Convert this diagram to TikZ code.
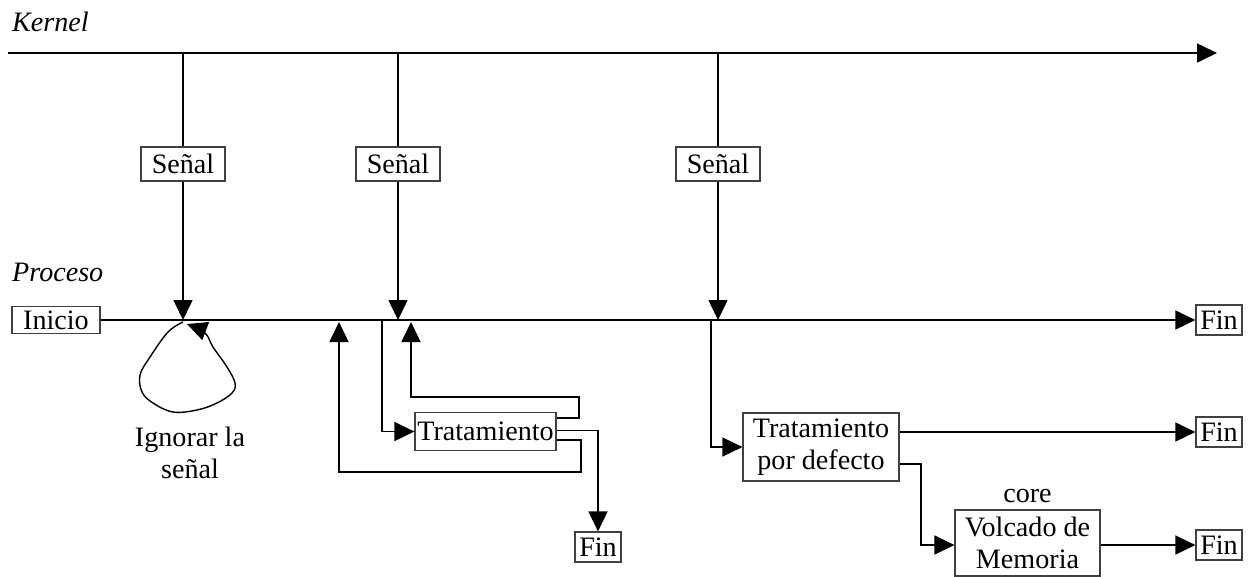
\documentclass[tikz,border=0pt]{standalone}
\usepackage{fontspec}
\setmainfont{Liberation Serif}
\usetikzlibrary{arrows.meta,calc,positioning}

\begin{document}
\begin{tikzpicture}[
      x={(0.02cm,0)}, y={(0,-0.02cm)},
      font=\fontsize{16}{18}\selectfont,
      box/.style={draw=black!75,line width=0.7pt,inner sep=1pt,align=center},
      line/.style={line width=0.9pt},
      arrow/.style={line width=0.9pt,-{Triangle[length=0.4cm,width=0.38cm]}},
      tag/.style={font=\fontsize{16}{18}\selectfont\itshape,anchor=west}
    ]
      \useasboundingbox (0,0) rectangle (1256,576);
      % labels of the two time lines
      \node[tag] (kernel) at (6,22) {Kernel};
      \node[tag] (proceso) at (6,272) {Proceso};
      \coordinate (k0) at (8,53);
      \coordinate (k1) at (1217,53);
      \draw[arrow] (k0) -- (k1);
      % signals sent by the kernel
      \node[box,minimum width=1.68cm,minimum height=0.68cm] (sig1) at (183,164) {Señal};
      \node[box,minimum width=1.68cm,minimum height=0.68cm] (sig2) at (398,164) {Señal};
      \node[box,minimum width=1.68cm,minimum height=0.68cm] (sig3) at (718,164) {Señal};
      \foreach \s/\x in {sig1/183,sig2/398,sig3/718} {
        \draw[line] (\x,53) -- (\s.north);
        \draw[arrow] (\s.south) -- (\x,320);
      }
      % process line
      \node[box,minimum width=1.76cm,minimum height=0.54cm] (inicio) at (56,320) {Inicio};
      \node[box,minimum width=0.92cm,minimum height=0.6cm] (fin1) at (1219,320) {Fin};
      \draw[arrow] (inicio.east) -- (fin1.west);
      % first signal: ignored
      \draw[arrow,line width=0.8pt] plot[smooth,tension=0.6] coordinates {(183,322) (168,332) (150,357) (140,375)
        (142,392) (153,403) (173,412) (197,410) (217,403) (232,393) (235,383) (227,367) (213,347) (205,333) (187,324)};
      \node[align=center] (ignorar) at (190,453) {Ignorar la\\señal};
      % second signal: handler
      \node[box,minimum width=2.82cm,minimum height=0.76cm] (trat) at (485.5,431.5) {Tratamiento};
      \node[box,minimum width=0.92cm,minimum height=0.6cm] (fin4) at (598,547) {Fin};
      \coordinate (p2) at (382,320);
      \coordinate (p2in) at (411,322);
      \coordinate (p2back) at (339,322);
      \draw[arrow] (p2) |- (trat.west);
      \draw[arrow] ([yshift=0.27cm]trat.east) -| (579,397) -| (p2in);
      \draw[arrow] ([yshift=0.02cm]trat.east) -| (fin4.north);
      \draw[arrow] ([yshift=-0.17cm]trat.east) -| (581,472) -| (p2back);
      % third signal: default action
      \node[box,minimum width=3.12cm,minimum height=1.36cm] (def) at (821,447) {Tratamiento\\por defecto};
      \node[box,minimum width=0.92cm,minimum height=0.6cm] (fin2) at (1219,432) {Fin};
      \node[box,minimum width=2.9cm,minimum height=1.32cm] (volc) at (1027.5,543) {Volcado de\\Memoria};
      \node[box,minimum width=0.92cm,minimum height=0.6cm] (fin3) at (1219,545) {Fin};
      \node[above=0pt of volc] (core) {core};
      \coordinate (p3) at (711,320);
      \coordinate (bend) at (921,545);
      \draw[arrow] (p3) |- (def.west);
      \draw[arrow] (def.east |- fin2.west) -- (fin2.west);
      \draw[arrow] ([yshift=-0.34cm]def.east) -| (bend) -- (volc.west |- bend);
      \draw[arrow] (volc.east |- fin3.west) -- (fin3.west);
    \end{tikzpicture}
\end{document}
